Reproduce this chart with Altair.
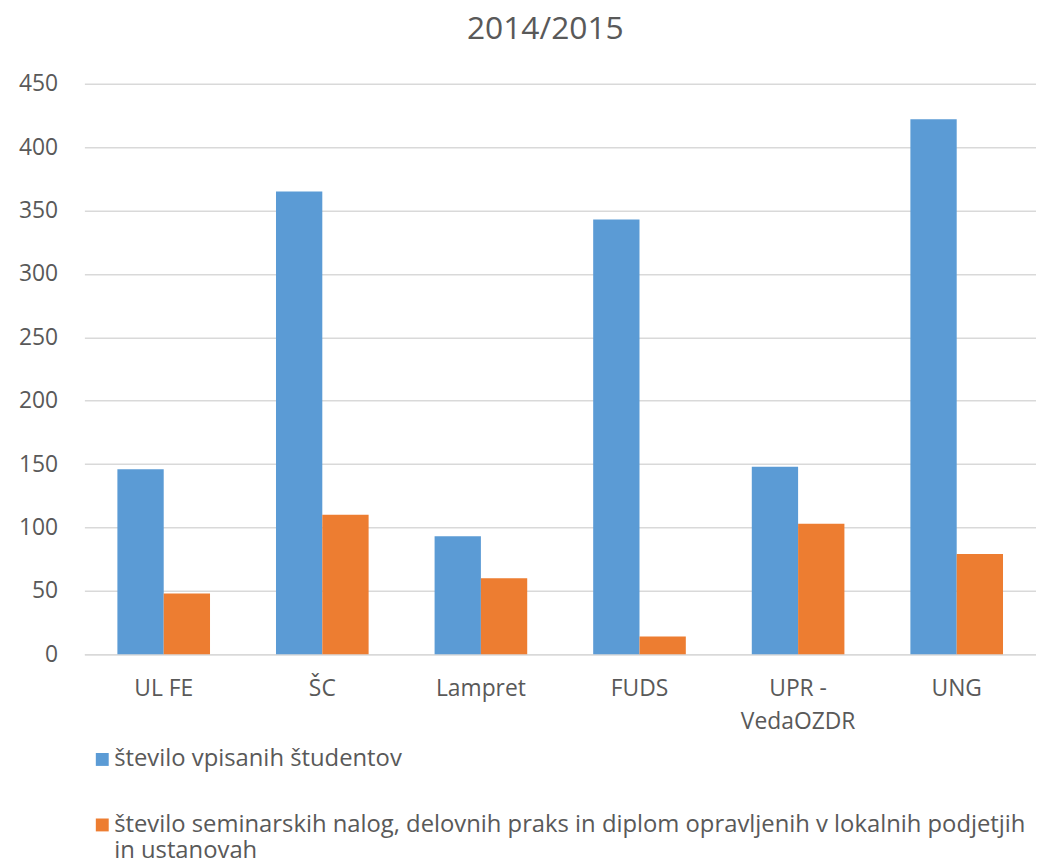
import altair as alt
import pandas as pd

categories = ["UL FE", "ŠC", "Lampret", "FUDS", "UPR - VedaOZDR", "UNG"]
series_names = [
    "število vpisanih študentov",
    "število seminarskih nalog, delovnih praks in diplom opravljenih v lokalnih podjetjih in ustanovah",
]
enrolled = [146, 365, 93, 343, 148, 422]
local_works = [48, 110, 60, 14, 103, 79]
colors = ["#5B9BD5", "#ED7D31"]
y_ticks = [0, 50, 100, 150, 200, 250, 300, 350, 400, 450]

rows = []
for i, c in enumerate(categories):
    rows.append({"kategorija": c, "serija": series_names[0], "vrednost": enrolled[i]})
    rows.append({"kategorija": c, "serija": series_names[1], "vrednost": local_works[i]})
df = pd.DataFrame(rows)

FONT = "Open Sans"
GREY = "#595959"

x_label_expr = "datum.label == 'UPR - VedaOZDR' ? ['UPR -', 'VedaOZDR'] : datum.label"
legend_label_expr = (
    "datum.label == '" + series_names[1] + "' ? "
    "['število seminarskih nalog, delovnih praks in diplom opravljenih v lokalnih podjetjih', 'in ustanovah'] "
    ": datum.label"
)

chart = (
    alt.Chart(df)
    .mark_bar()
    .encode(
        x=alt.X(
            "kategorija:N",
            sort=categories,
            scale=alt.Scale(paddingInner=0.416, paddingOuter=0.208),
            axis=alt.Axis(
                title=None,
                labelAngle=0,
                labelExpr=x_label_expr,
                labelFont=FONT,
                labelFontSize=23,
                labelColor=GREY,
                labelPadding=24,
                labelLineHeight=33,
                ticks=False,
                domainColor="#D9D9D9",
                domainWidth=1.5,
            ),
        ),
        y=alt.Y(
            "vrednost:Q",
            scale=alt.Scale(domain=[0, 450], nice=False),
            axis=alt.Axis(
                title=None,
                values=y_ticks,
                ticks=False,
                domain=False,
                gridColor="#D9D9D9",
                gridWidth=1.5,
                labelFont=FONT,
                labelFontSize=23,
                labelColor=GREY,
                labelPadding=27,
            ),
        ),
        xOffset=alt.XOffset("serija:N", sort=series_names),
        color=alt.Color(
            "serija:N",
            sort=series_names,
            scale=alt.Scale(domain=series_names, range=colors),
            legend=alt.Legend(
                title=None,
                orient="none",
                legendX=6,
                legendY=669,
                direction="vertical",
                symbolType="square",
                symbolSize=169,
                symbolStrokeWidth=0,
                labelFont=FONT,
                labelFontSize=24,
                labelColor=GREY,
                labelLimit=2000,
                labelOffset=0,
                rowPadding=42,
                labelExpr=legend_label_expr,
            ),
        ),
    )
    .properties(
        width=959,
        height=575,
        title=alt.TitleParams(
            "2014/2015",
            font=FONT,
            fontSize=32,
            fontWeight="normal",
            color=GREY,
            offset=27,
            dx=-15,
        ),
        autosize=alt.AutoSizeParams(type="none"),
        padding={"left": 77, "top": 73, "right": 0, "bottom": 202},
    )
    .configure_view(stroke=None)
)

chart.save("out.html", embed_options={"renderer": "svg", "actions": False})
